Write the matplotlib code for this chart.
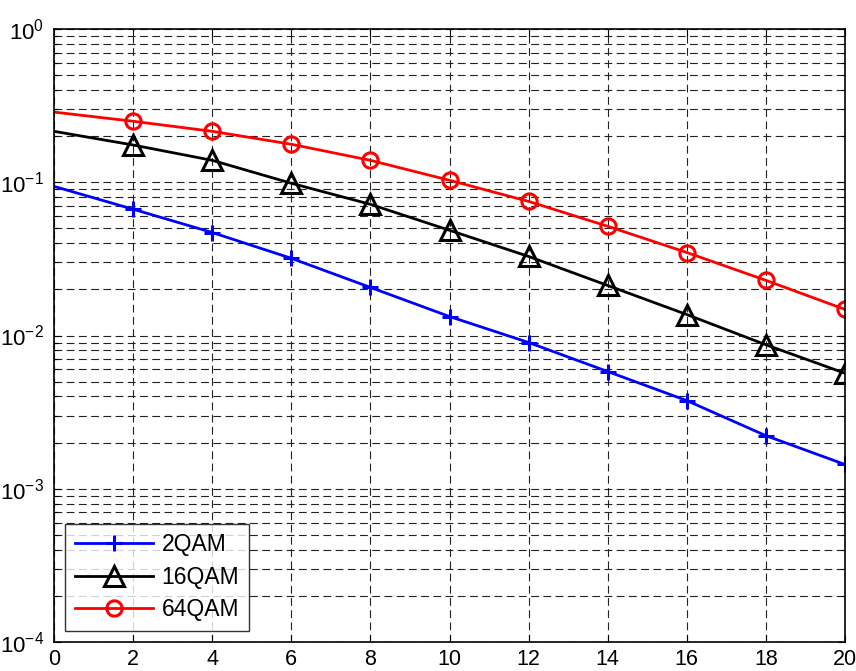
import matplotlib
matplotlib.use("Agg")
import matplotlib.pyplot as plt
import numpy as np

plt.rcParams['font.family'] = ['Liberation Sans', 'DejaVu Sans']
plt.rcParams['mathtext.fontset'] = 'custom'
plt.rcParams['mathtext.rm'] = 'Liberation Sans'
plt.rcParams['mathtext.it'] = 'Liberation Sans:italic'
plt.rcParams['mathtext.bf'] = 'Liberation Sans:bold'

snr = [0, 2, 4, 6, 8, 10, 12, 14, 16, 18, 20]
ber_2qam = [0.094, 0.0667, 0.047, 0.0319, 0.0206, 0.0133, 0.0090, 0.00582, 0.00376, 0.00222, 0.00144]
ber_16qam = [0.215, 0.175, 0.139, 0.0985, 0.0718, 0.0486, 0.0328, 0.0212, 0.0137, 0.0087, 0.00567]
ber_64qam = [0.287, 0.250, 0.215, 0.177, 0.139, 0.103, 0.075, 0.0516, 0.0348, 0.0229, 0.0148]
labels = ['2QAM', '16QAM', '64QAM']
xticks = [0, 2, 4, 6, 8, 10, 12, 14, 16, 18, 20]
yticks = [1e-4, 1e-3, 1e-2, 1e-1, 1e0]
ytick_labels = [r'$10^{-4}$', r'$10^{-3}$', r'$10^{-2}$', r'$10^{-1}$', r'$10^{0}$']

fig = plt.figure(figsize=(8.56, 6.71), dpi=100)
ax = fig.add_axes([54/856, 1-642/671, (845-54)/856, (642-29)/671])

mk = list(range(1, len(snr)))
ax.semilogy(snr, ber_2qam, color='blue', lw=2, marker='+', ms=11, mew=2.2,
            markevery=mk, label=labels[0])
ax.semilogy(snr, ber_16qam, color='black', lw=2, marker='^', ms=14, mew=2.2,
            mfc='none', markevery=mk, label=labels[1])
ax.semilogy(snr, ber_64qam, color='red', lw=2, marker='o', ms=11, mew=2.2,
            mfc='none', markevery=mk, label=labels[2])

ax.set_xlim(0, 20)
ax.set_ylim(1e-4, 1e0)
ax.set_xticks(xticks)
ax.set_xticklabels([str(v) for v in xticks])
ax.set_yticks(yticks)
ax.set_yticklabels(ytick_labels)
ax.yaxis.set_minor_locator(matplotlib.ticker.LogLocator(base=10, subs=np.arange(2, 10), numticks=20))
ax.yaxis.set_minor_formatter(matplotlib.ticker.NullFormatter())

ax.tick_params(which='both', direction='in', top=True, right=True, labelsize=15.5)
ax.tick_params(which='major', length=5, width=0.8)
ax.tick_params(which='minor', length=3, width=0.8)
ax.tick_params(axis='x', pad=5)
ax.tick_params(axis='y', pad=7, labelsize=16)

ax.grid(True, which='major', axis='both', color='#222222', lw=0.8, ls=(0, (7, 4)))
ax.grid(True, which='minor', axis='y', color='#222222', lw=0.8, ls=(0, (7, 4)))
for s in ax.spines.values():
    s.set_linewidth(1.2)
    s.set_color('black')

leg = ax.legend(loc='lower left', fontsize=16.5, handlelength=3.4, frameon=True,
                fancybox=False, edgecolor='black', borderaxespad=0.5,
                labelspacing=0.42, borderpad=0.4, handletextpad=0.4)
leg.get_frame().set_linewidth(1.0)

fig.savefig('out.png', dpi=100)
